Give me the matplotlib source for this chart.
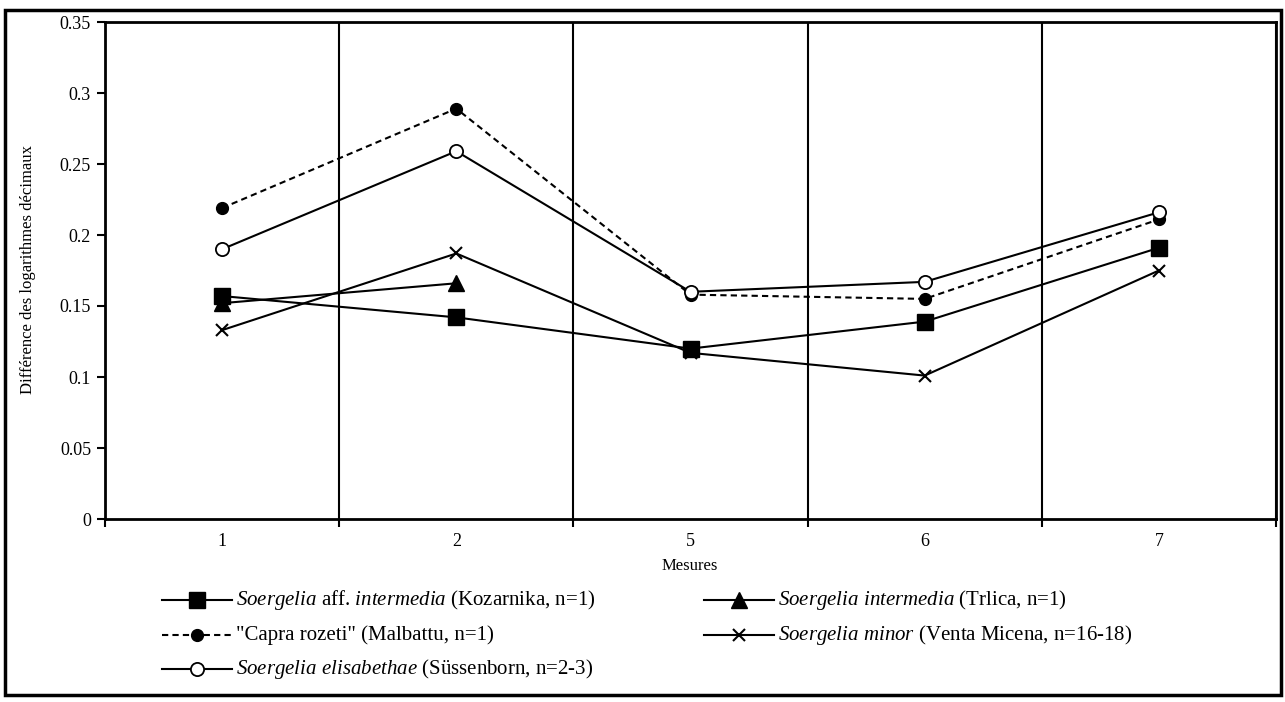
import numpy as np
import matplotlib
matplotlib.use('Agg')
import matplotlib.pyplot as plt
from matplotlib.lines import Line2D
from matplotlib.patches import Rectangle
from matplotlib.ticker import FuncFormatter

plt.rcParams['font.family'] = ['Liberation Serif', 'DejaVu Serif']
plt.rcParams['mathtext.fontset'] = 'custom'
plt.rcParams['mathtext.rm'] = 'Liberation Serif'
plt.rcParams['mathtext.it'] = 'Liberation Serif:italic'

# données
mesures = ['1', '2', '5', '6', '7']
kozarnika = [0.157, 0.142, 0.120, 0.139, 0.191]
trlica = [0.152, 0.166, np.nan, np.nan, np.nan]
capra = [0.219, 0.289, 0.158, 0.155, 0.211]
minor = [0.133, 0.187, 0.117, 0.101, 0.175]
elisabethae = [0.190, 0.259, 0.160, 0.167, 0.216]

W, H = 1285, 702
fig = plt.figure(figsize=(W / 100, H / 100), dpi=100)
ax = fig.add_axes([105 / W, 1 - 519 / H, (1276 - 105) / W, (519 - 22) / H])

x = np.arange(1, len(mesures) + 1)
lw = 1.5
series = [
    (kozarnika, dict(marker='s', ms=12, mfc='black', mec='black', ls='-'),
     r'$\mathit{Soergelia}$ aff. $\mathit{intermedia}$ (Kozarnika, n=1)'),
    (trlica, dict(marker='^', ms=12, mfc='black', mec='black', ls='-'),
     r'$\mathit{Soergelia}$ $\mathit{intermedia}$ (Trlica, n=1)'),
    (capra, dict(marker='o', ms=8.5, mfc='black', mec='black', ls=(0, (3, 2))),
     '"Capra rozeti" (Malbattu, n=1)'),
    (minor, dict(marker='x', ms=8, mec='black', mew=1.5, ls='-'),
     r'$\mathit{Soergelia}$ $\mathit{minor}$ (Venta Micena, n=16-18)'),
    (elisabethae, dict(marker='o', ms=9.5, mfc='white', mec='black', mew=1.3, ls='-'),
     r'$\mathit{Soergelia}$ $\mathit{elisabethae}$ (Süssenborn, n=2-3)'),
]

for vals, st, lab in series:
    ax.plot(x, vals, color='black', lw=lw, **st)

ax.set_xlim(0.5, len(mesures) + 0.5)
ax.set_ylim(0, 0.35)
ax.set_yticks(np.arange(0, 0.351, 0.05))
ax.yaxis.set_major_formatter(FuncFormatter(lambda v, p: f'{v:.2f}'.rstrip('0').rstrip('.')))
ax.set_xticks(x)
ax.set_xticklabels(mesures)
ax.set_xticks(np.arange(0.5, len(mesures) + 0.6, 1), minor=True)
ax.tick_params(axis='x', which='major', length=0, pad=10, labelsize=13)
ax.tick_params(axis='x', which='minor', length=6, width=1.5, direction='out')
ax.tick_params(axis='y', length=6, width=1.5, direction='out', pad=4, labelsize=13)
ax.grid(True, which='minor', axis='x', color='black', lw=1.5)
for s in ax.spines.values():
    s.set_linewidth(2)

fig.text(28 / W, 1 - 270 / H, 'Différence des logarithmes décimaux',
         rotation=90, ha='center', va='center', fontsize=12)
fig.text(690 / W, 1 - 566 / H, 'Mesures', ha='center', va='center', fontsize=12)

# légende
def fx(px):
    return px / W

def fy(py):
    return 1 - py / H

places = [(162, 600), (704, 600), (162, 635), (704, 635), (162, 669)]
for (vals, st, lab), (px, py) in zip(series, places):
    ln = Line2D([fx(px), fx(px + 35), fx(px + 70)], [fy(py)] * 3, transform=fig.transFigure,
                color='black', lw=lw, markevery=[1], **st)
    fig.add_artist(ln)
    fig.text(fx(px + 74), fy(py), lab, ha='left', va='center', fontsize=15)

# cadre
fig.add_artist(Rectangle((fx(5), fy(695)), fx(1281) - fx(5), fy(10) - fy(695),
                         transform=fig.transFigure, fill=False, ec='black', lw=2.5))

fig.savefig('out.png', dpi=100)
